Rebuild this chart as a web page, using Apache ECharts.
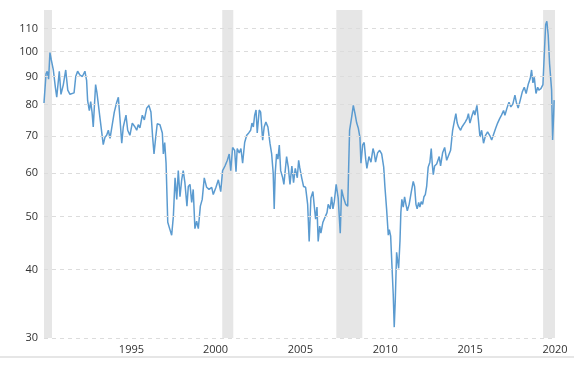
<!DOCTYPE html>
<html>
<head>
<meta charset="utf-8">
<script src="https://cdn.jsdelivr.net/npm/echarts@6/dist/echarts.min.js"></script>
<style>html,body{margin:0;padding:0;background:#fff;}#c{width:574px;height:371px;}</style>
</head>
<body>
<div id="c"></div>
<script>
// decimal year of each observation
const dates = [1990.70,1990.82,1990.89,1990.97,1991.05,1991.13,1991.25,1991.37,1991.45,1991.60,1991.70,1991.84,1991.98,1992.10,1992.23,1992.33,1992.47,1992.57,1992.68,1992.82,1992.96,1993.11,1993.21,1993.27,1993.37,1993.45,1993.53,1993.60,1993.74,1993.82,1993.90,1994.00,1994.10,1994.19,1994.29,1994.39,1994.49,1994.59,1994.69,1994.84,1994.98,1995.08,1995.18,1995.28,1995.37,1995.53,1995.63,1995.76,1995.90,1996.06,1996.16,1996.25,1996.35,1996.49,1996.61,1996.75,1996.88,1997.00,1997.10,1997.18,1997.28,1997.37,1997.53,1997.67,1997.73,1997.81,1997.89,1997.99,1998.10,1998.22,1998.32,1998.42,1998.52,1998.61,1998.71,1998.81,1998.90,1999.00,1999.12,1999.20,1999.30,1999.40,1999.49,1999.59,1999.69,1999.79,1999.91,2000.02,2000.14,2000.28,2000.42,2000.58,2000.67,2000.83,2000.97,2001.11,2001.22,2001.36,2001.50,2001.61,2001.70,2001.81,2001.93,2002.01,2002.08,2002.20,2002.30,2002.40,2002.52,2002.64,2002.76,2002.87,2002.95,2003.03,2003.11,2003.19,2003.26,2003.38,2003.46,2003.58,2003.67,2003.77,2003.89,2004.01,2004.11,2004.20,2004.26,2004.32,2004.40,2004.48,2004.56,2004.64,2004.76,2004.83,2004.91,2004.99,2005.09,2005.19,2005.30,2005.40,2005.50,2005.62,2005.70,2005.76,2005.88,2005.99,2006.11,2006.23,2006.32,2006.42,2006.54,2006.62,2006.70,2006.78,2006.85,2006.94,2007.01,2007.13,2007.25,2007.37,2007.44,2007.56,2007.64,2007.72,2007.80,2007.91,2008.03,2008.15,2008.23,2008.35,2008.47,2008.59,2008.70,2008.82,2008.92,2009.02,2009.12,2009.21,2009.31,2009.37,2009.47,2009.56,2009.65,2009.72,2009.84,2009.96,2010.08,2010.15,2010.23,2010.35,2010.47,2010.59,2010.71,2010.78,2010.88,2010.98,2011.04,2011.12,2011.19,2011.27,2011.33,2011.39,2011.47,2011.53,2011.59,2011.67,2011.72,2011.78,2011.86,2011.94,2012.02,2012.10,2012.21,2012.33,2012.45,2012.53,2012.61,2012.68,2012.77,2012.84,2012.92,2013.00,2013.08,2013.16,2013.24,2013.33,2013.43,2013.51,2013.57,2013.63,2013.71,2013.83,2013.90,2013.98,2014.06,2014.18,2014.30,2014.42,2014.53,2014.65,2014.77,2014.85,2014.96,2015.04,2015.12,2015.24,2015.32,2015.39,2015.51,2015.63,2015.70,2015.79,2015.89,2016.01,2016.08,2016.20,2016.28,2016.38,2016.48,2016.59,2016.71,2016.83,2016.95,2017.07,2017.18,2017.30,2017.42,2017.54,2017.65,2017.77,2017.85,2017.97,2018.09,2018.20,2018.32,2018.44,2018.52,2018.63,2018.75,2018.87,2018.99,2019.10,2019.22,2019.34,2019.42,2019.50,2019.58,2019.68,2019.78,2019.85,2019.97,2020.09,2020.16,2020.25,2020.32,2020.40,2020.48,2020.54,2020.60,2020.66,2020.72,2020.75];
const values = [80.5,91,92,89,99.5,96.5,92.5,86,82.5,92,83.5,87,92.5,85,83.5,84,84,90,92,90.5,90,92,88.5,81.3,78,81,77.5,72.8,87,84,84.5,75.5,75,67.6,69.7,70.3,71.8,69.4,69.2,77.5,80.7,82.5,75,68,72.8,76.5,71.8,70.3,74,72.8,71.8,73.5,72.5,76.5,75,78.8,79.7,77.5,69.7,65,69.7,73.8,73.5,71,65,68.2,62.5,48.8,47.5,46.2,50,58.8,53.7,60.6,54.3,58.3,60.6,57.6,52.2,56.7,57.2,53,56,47.5,49,47.5,52.2,53.7,58.8,56.5,56,56.5,54.8,56.5,58.3,55.5,60.6,61.8,63.3,65,60.6,66.8,66,60.3,66.5,65.3,66.5,62.5,68.2,70.3,71,71.8,74,72.8,76.5,78.2,71,78.2,77.5,68.9,72.8,74.3,72.8,68,65,60,51.6,60,65,63.6,67.5,60.6,58.8,57.2,57.6,64.3,61.5,57.2,61.8,57.6,61.2,58.8,63.3,61.5,58.8,56.7,56.5,52.6,45,54,55.5,52.2,49.4,52,45,48,46.6,48.8,49.8,50.8,52.6,51.6,54.3,51.6,53.2,57.2,54,46.6,56,54,52.6,52.2,71.8,75.8,79.7,77,74,72.5,69.7,62.5,67.5,68.2,63.6,61.2,64.3,62.8,66.5,65.3,62.8,65.3,66,65,61.5,56.7,51.6,46.2,47.3,46,41,36.1,31.4,35,43,41.5,40.2,45.2,50.8,53.7,52,54.3,52.6,51.2,52.6,55.3,57.9,56.7,52.6,51.6,53,52,53.2,52.6,54.3,54.8,56.7,61.5,62.8,66.5,62.3,59.6,61.8,62.3,62.5,64.3,61.8,65.3,66.8,63.3,62.8,66,71.8,74,77,74,72.8,71.8,72.8,72.5,74.3,75.5,77,74,76,78,76.5,79.7,75.4,69.8,71.8,68,70.3,71.3,70.3,68.9,68.4,72.3,74,75.4,76.5,78,76.5,78.8,80.8,79.2,80.2,83.2,80.8,78.8,81.4,84.3,86,83.8,87,89.2,92.5,87.6,89.7,83.8,86,85,85.5,87,97.5,112,113.5,107,95,94.5,85,68.9,76.5,81.5];
// recessions (start, end) in decimal years
const recessionStart = [1990.70, 2001.20, 2007.92, 2020.10];
const recessionEnd   = [1991.17, 2001.85, 2009.45, 2020.80];
// y tick labels (log scale)
const yTicks = [30, 40, 50, 60, 70, 80, 90, 100, 110];
// x tick labels and their positions on the axis
const xTickLabels = ['1995', '2000', '2005', '2010', '2015', '2020'];
const xTickPos = [1995.85, 2000.80, 2005.80, 2010.80, 2015.80, 2020.80];

const chart = echarts.init(document.getElementById('c'), null, {renderer: 'canvas'});
const font = '"Open Sans", "Liberation Sans", sans-serif';
const seriesData = dates.map((d, i) => [d, values[i]]);
const bands = recessionStart.map((s, i) => [{xAxis: s}, {xAxis: recessionEnd[i]}]);

chart.setOption({
  animation: false,
  backgroundColor: '#fff',
  grid: {left: 44, right: 19, top: 10, bottom: 33, containLabel: false},
  xAxis: {
    type: 'value', min: 1990.70, max: 2020.80,
    axisLine: {show: false}, axisTick: {show: false}, splitLine: {show: false},
    axisLabel: {
      customValues: xTickPos,
      color: '#333', fontSize: 11, fontFamily: font, margin: 6,
      formatter: v => { const i = xTickPos.findIndex(p => Math.abs(p - v) < 1e-6); return i >= 0 ? xTickLabels[i] : ''; }
    }
  },
  yAxis: {
    type: 'log', logBase: 10, min: 30, max: 119,
    axisLine: {show: false}, axisTick: {show: false}, splitLine: {show: false},
    axisLabel: {show: false}
  },
  graphic: [{type: 'rect', shape: {x: 0, y: 356, width: 574, height: 2}, style: {fill: '#e6e6e6'}, silent: true}],
  series: [
    {
      type: 'line', data: [], z: 1, silent: true,
      markArea: {silent: true, itemStyle: {color: '#e6e6e6'}, data: bands}
    },
    {
      type: 'line', data: [], z: 2, silent: true,
      markLine: {
        silent: true, symbol: 'none',
        lineStyle: {type: [4, 4], color: '#dcdcdc', width: 1},
        label: {position: 'start', formatter: p => String(p.value), color: '#333', fontSize: 11, fontFamily: font, distance: 6},
        data: yTicks.map(v => ({yAxis: v}))
      }
    },
    {
      type: 'line', data: seriesData, z: 3,
      showSymbol: false, symbol: 'none',
      lineStyle: {color: '#5b9bd0', width: 1.5},
      emphasis: {disabled: true}
    }
  ]
});
</script>
</body>
</html>
